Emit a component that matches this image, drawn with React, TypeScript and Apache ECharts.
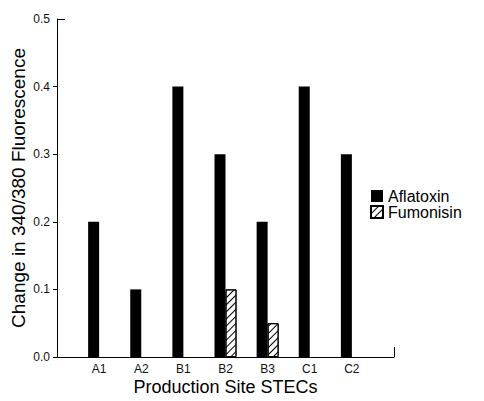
import React, { useEffect, useRef } from "react";
import * as echarts from "echarts";

const categories = ["", "A1", "A2", "B1", "B2", "B3", "C1", "C2", " "];
const aflatoxin = [null, 0.2, 0.1, 0.4, 0.3, 0.2, 0.4, 0.3, null];
const fumonisin = [null, null, null, null, 0.1, 0.05, null, null, null];
const yTicks = [0, 0.1, 0.2, 0.3, 0.4];

export default function App() {
  const ref = useRef<HTMLDivElement>(null);
  useEffect(() => {
    const chart = echarts.init(ref.current!, null, { renderer: "svg" });
    const font = "'Liberation Sans', Arial, sans-serif";
    chart.setOption({
      animation: false,
      backgroundColor: "#fff",
      textStyle: { fontFamily: font },
      grid: { left: 57, right: 90, top: 19, bottom: 44, containLabel: false, outerBoundsMode: "none" },
      legend: {
        orient: "vertical",
        left: 365,
        top: 183,
        itemWidth: 12,
        itemHeight: 12,
        itemGap: 0,
        icon: "rect",
        textStyle: { fontSize: 16, lineHeight: 16, color: "#000", fontFamily: font },
        data: ["Aflatoxin", "Fumonisin"],
      },
      xAxis: {
        type: "category",
        data: categories,
        boundaryGap: false,
        name: "Production Site STECs",
        nameLocation: "middle",
        nameGap: 21,
        nameMoveOverlap: false,
        nameTextStyle: { fontSize: 18, color: "#000", fontFamily: font, verticalAlign: "top" },
        axisLine: { lineStyle: { color: "#000", width: 1 } },
        axisTick: {
          show: true,
          inside: true,
          length: 10,
          interval: (i: number) => i === categories.length - 1,
          lineStyle: { color: "#000" },
        },
        axisLabel: { fontSize: 12, color: "#111", margin: 6, interval: 0, fontFamily: font },
      },
      yAxis: [
        {
          type: "value",
          min: 0,
          max: 0.5,
          interval: 0.1,
          name: "Change in 340/380 Fluorescence",
          nameLocation: "middle",
          nameGap: 29,
          nameMoveOverlap: false,
          nameTextStyle: { fontSize: 19, color: "#000", fontFamily: font },
          axisLine: { show: true, lineStyle: { color: "#000", width: 1 } },
          axisTick: { show: true, length: 4, customValues: yTicks, lineStyle: { color: "#000" } },
          axisLabel: {
            fontSize: 12,
            color: "#111",
            margin: 7,
            fontFamily: font,
            formatter: (v: number) => v.toFixed(1),
          },
          splitLine: { show: false },
        },
        {
          type: "value",
          position: "left",
          min: 0,
          max: 0.5,
          interval: 0.5,
          axisLine: { show: false },
          axisTick: { show: true, inside: true, length: 8, lineStyle: { color: "#000" } },
          axisLabel: { show: false },
          splitLine: { show: false },
        },
      ],
      series: [
        {
          name: "Aflatoxin",
          type: "bar",
          data: aflatoxin,
          barWidth: 11,
          barGap: "0%",
          itemStyle: { color: "#000" },
        },
        {
          name: "Fumonisin",
          type: "bar",
          data: fumonisin,
          barWidth: 11,
          barGap: "0%",
          itemStyle: {
            color: "#fff",
            borderColor: "#000",
            borderWidth: 1,
            decal: {
              symbol: "rect",
              symbolSize: 1,
              dashArrayX: [1, 0],
              dashArrayY: [1, 4],
              rotation: -Math.PI / 4,
              color: "#000",
              backgroundColor: "#fff",
            },
          },
        },
      ],
    });
    return () => chart.dispose();
  }, []);
  return <div ref={ref} style={{ width: 484, height: 401, position: "absolute", left: 0, top: 0 }} />;
}
